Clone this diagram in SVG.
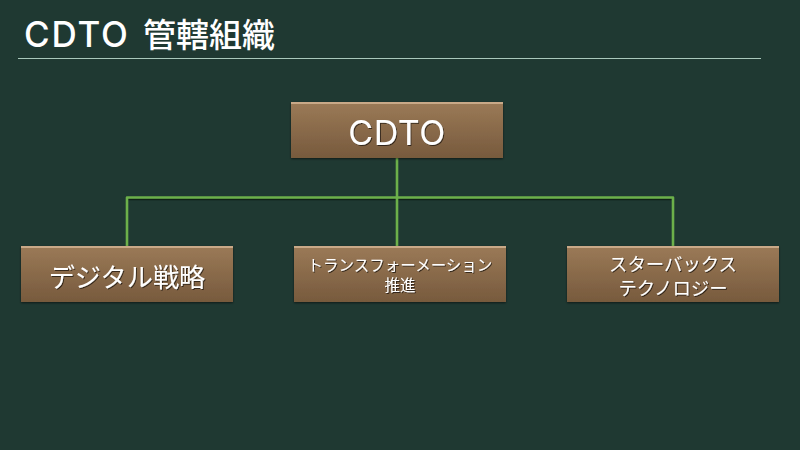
<svg xmlns="http://www.w3.org/2000/svg" width="800" height="450" viewBox="0 0 800 450">
<style>
text{font-family:"Noto Sans CJK JP","Noto Sans",sans-serif;fill:#fff;text-anchor:middle;font-weight:400}
.lat{font-family:"Inter","Noto Sans CJK JP",sans-serif}
.box{fill:url(#g)}
.hl{fill:#c9a988}
.s{filter:url(#ts)}
.c{fill:none;stroke:#6cb04a;stroke-width:2.6;stroke-linejoin:round}
.cs{fill:none;stroke:#0c1c10;stroke-width:1.5;opacity:.8}
</style>
<defs>
<linearGradient id="g" x1="0" y1="0" x2="0" y2="1"><stop offset="0" stop-color="#9b7a57"/><stop offset="1" stop-color="#775a3d"/></linearGradient>
<filter id="ds" x="-5%" y="-10%" width="110%" height="125%"><feDropShadow dx="0" dy="1" stdDeviation="1" flood-color="#000" flood-opacity=".55"/></filter>
<filter id="ts" x="-5%" y="-10%" width="110%" height="130%"><feDropShadow dx="1" dy="1" stdDeviation=".6" flood-color="#000" flood-opacity=".6"/></filter>
</defs>
<rect width="800" height="450" fill="#1f3932"/>
<g id="title">
<text class="lat" x="24" y="47" font-size="35" letter-spacing="1.800" style="text-anchor:start;font-weight:500">CDTO</text>
<text x="143" y="47" font-size="33" style="text-anchor:start;font-weight:500">管轄組織</text>
<rect x="18" y="58" width="743" height="1" fill="#a9c8bb"/>
</g>
<g id="connectors">
<path class="cs" d="M127 199.500H673"/>
<path class="c" d="M397 158V246M127 246V197.500H673V246"/>
</g>
<g id="n-cdto" filter="url(#ds)">
<rect class="box" x="291" y="102" width="212" height="56"/><rect class="hl" x="291" y="102" width="212" height="2"/>
<text class="lat s" x="397" y="145" font-size="34" letter-spacing=".5">CDTO</text>
</g>
<g id="n-digital" filter="url(#ds)">
<rect class="box" x="21" y="246" width="212" height="56"/><rect class="hl" x="21" y="246" width="212" height="2"/>
<text class="s" x="127" y="287" font-size="26.200">デジタル戦略</text>
</g>
<g id="n-transformation" filter="url(#ds)">
<rect class="box" x="294" y="246" width="212" height="56"/><rect class="hl" x="294" y="246" width="212" height="2"/>
<text class="s" font-size="15.500"><tspan x="400" y="271">トランスフォーメーション</tspan><tspan x="400" y="291">推進</tspan></text>
</g>
<g id="n-starbucks" filter="url(#ds)">
<rect class="box" x="567" y="246" width="212" height="56"/><rect class="hl" x="567" y="246" width="212" height="2"/>
<text class="s" font-size="18.400"><tspan x="673" y="270.500">スターバックス</tspan><tspan x="673" y="295">テクノロジー</tspan></text>
</g>
</svg>
